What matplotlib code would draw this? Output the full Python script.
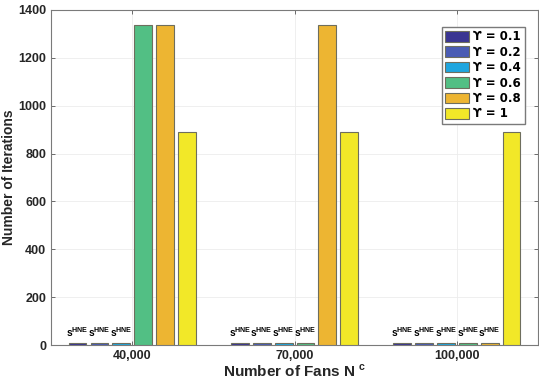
import numpy as np
import matplotlib.pyplot as plt

plt.rcParams['font.family'] = ['Liberation Sans', 'DejaVu Sans']
plt.rcParams['font.weight'] = 'bold'
plt.rcParams['mathtext.fontset'] = 'custom'
plt.rcParams['mathtext.rm'] = 'Liberation Sans:bold'
plt.rcParams['mathtext.bf'] = 'Liberation Sans:bold'

# data
fans = ['40,000', '70,000', '100,000']
upsilon = ['0.1', '0.2', '0.4', '0.6', '0.8', '1']
iters = {
    '0.1': [8, 8, 8],
    '0.2': [8, 8, 8],
    '0.4': [8, 8, 8],
    '0.6': [1337, 8, 8],
    '0.8': [1337, 1337, 8],
    '1':   [889, 889, 889],
}
colors = ['#3a3592', '#4a5cb4', '#1fa6df', '#52bf84', '#edb532', '#f2e828']

fig = plt.figure(figsize=(5.39, 3.83), dpi=100)
ax = fig.add_axes([0.095, 0.099, 0.903, 0.875])

x = np.arange(1, len(fans) + 1)
step = 0.135
width = 0.11
for i, u in enumerate(upsilon):
    xs = x + (i - 2.5) * step
    vals = iters[u]
    ax.bar(xs, vals, width, color=colors[i], edgecolor='#6e6e5e', linewidth=0.8,
           label='ϒ = ' + u, zorder=3)
    # mark the near-zero bars
    for xi, v in zip(xs, vals):
        if v < 100:
            ax.text(xi, 24, r'$\mathbf{s^{HNE}}$', ha='center', va='bottom',
                    fontsize=7.3, zorder=4)

ax.set_xlim(0.5, 3.5)
ax.set_ylim(0, 1400)
ax.set_xticks(x)
ax.set_xticklabels(fans)
ax.set_yticks(np.arange(0, 1401, 200))
ax.tick_params(direction='in', length=3, width=0.6, labelsize=9, color='#555555',
               top=True, right=True)
for lab in ax.get_xticklabels() + ax.get_yticklabels():
    lab.set_fontweight('bold')
    lab.set_color('#262626')
for s in ax.spines.values():
    s.set_color('#7a7a7a')
    s.set_linewidth(0.8)
ax.grid(True, color='#ececec', linewidth=0.6, zorder=0)
ax.set_axisbelow(True)

ax.set_xlabel(r'Number of Fans N $^{\mathbf{c}}$', fontsize=11, fontweight='bold',
              color='#262626', labelpad=1)
ax.set_ylabel('Number of Iterations', fontsize=10, fontweight='bold',
              color='#262626')
ax.yaxis.set_label_coords(-0.072, 0.5)

leg = ax.legend(loc='upper right', prop={'family': 'DejaVu Sans', 'weight': 'bold', 'size': 8.5},
                frameon=True, fancybox=False,
                framealpha=1, edgecolor='#7a7a7a', handlelength=2.0, handleheight=1.0,
                labelspacing=0.2, borderpad=0.3, handletextpad=0.4,
                bbox_to_anchor=(0.985, 0.967))

fig.savefig('out.png', dpi=100)
